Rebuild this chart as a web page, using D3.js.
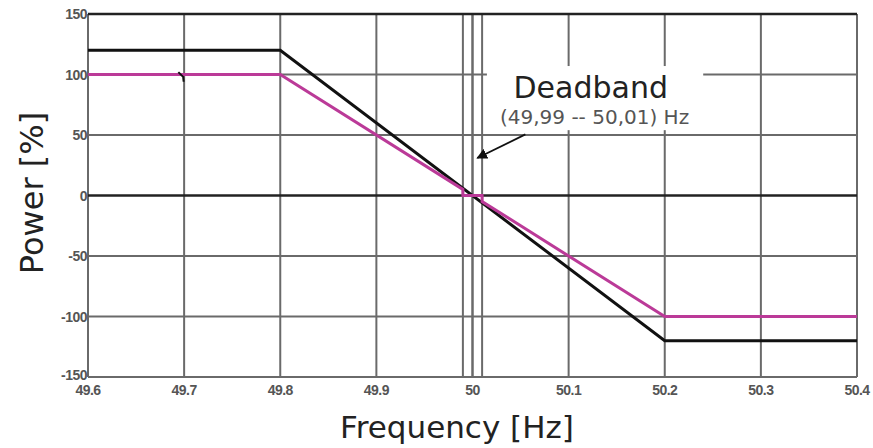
<!DOCTYPE html>
<html>
<head>
<script src="https://cdn.jsdelivr.net/npm/d3@7"></script>
<style>
  body { margin: 0; background: #fff; }
  svg { display: block; }
</style>
</head>
<body>
<div id="chart"></div>
<script>
// tick values
var xTicks = [49.6, 49.7, 49.8, 49.9, 50, 50.1, 50.2, 50.3, 50.4];
var yTicks = [-150, -100, -50, 0, 50, 100, 150];
var deadbandLines = [49.99, 50, 50.01];

// curves (frequency, power %)
var blackFreq  = [49.6, 49.8, 50.2, 50.4];
var blackPower = [120, 120, -120, -120];
var pinkFreq   = [49.6, 49.8, 49.99, 49.99, 50.01, 50.01, 50.2, 50.4];
var pinkPower  = [100, 100, 5, 0, 0, -5, -100, -100];

// little stray stroke near 49.7
var strayFreq  = [49.694, 49.699, 49.6995];
var strayPower = [102, 98, 94];

var W = 873, H = 448;
var margin = {top: 14, right: 16, bottom: 71, left: 88};
var width = W - margin.left - margin.right,
    height = H - margin.top - margin.bottom;

var svg = d3.select("#chart").append("svg")
    .attr("width", W).attr("height", H);

var g = svg.append("g")
    .attr("transform", "translate(" + margin.left + "," + margin.top + ")");

var x = d3.scaleLinear().domain([49.6, 50.4]).range([0, width]);
var y = d3.scaleLinear().domain([-150, 150]).range([height, 0]);

// grid
g.selectAll(".vgrid").data(xTicks.concat(deadbandLines)).enter().append("line")
    .attr("x1", d => x(d)).attr("x2", d => x(d))
    .attr("y1", 0).attr("y2", height)
    .attr("stroke", "#6a6a6a").attr("stroke-width", 2);

g.selectAll(".hgrid").data(yTicks).enter().append("line")
    .attr("x1", 0).attr("x2", width)
    .attr("y1", d => y(d)).attr("y2", d => y(d))
    .attr("stroke", d => (d === 0 || d === 150) ? "#222" : "#6a6a6a")
    .attr("stroke-width", d => (d === 0 || d === 150) ? 2.5 : 2);

// tick labels
g.selectAll(".ylab").data(yTicks).enter().append("text")
    .attr("x", -1).attr("y", d => y(d) + (d === -150 ? 3 : 5))
    .attr("text-anchor", "end")
    .style("font", "bold 14px 'Liberation Sans', Arial, sans-serif")
    .style("letter-spacing", "-0.5px")
    .attr("fill", "#555")
    .text(d => d);

g.selectAll(".xlab").data(xTicks).enter().append("text")
    .attr("x", d => x(d)).attr("y", height + 18)
    .attr("text-anchor", "middle")
    .style("font", "bold 14px 'Liberation Sans', Arial, sans-serif")
    .style("letter-spacing", "-0.5px")
    .attr("fill", "#555")
    .text(d => d);

var line = d3.line().x(d => x(d[0])).y(d => y(d[1]));

g.append("path")
    .datum(blackFreq.map((f, i) => [f, blackPower[i]]))
    .attr("d", line).attr("fill", "none")
    .attr("stroke", "#111").attr("stroke-width", 3);

g.append("path")
    .datum(pinkFreq.map((f, i) => [f, pinkPower[i]]))
    .attr("d", line).attr("fill", "none")
    .attr("stroke", "#bb3a98").attr("stroke-width", 3);

g.append("path")
    .datum(strayFreq.map((f, i) => [f, strayPower[i]]))
    .attr("d", line).attr("fill", "none")
    .attr("stroke", "#111").attr("stroke-width", 2);

// annotation, with white box behind it
g.append("rect")
    .attr("x", x(50.015)).attr("y", y(107))
    .attr("width", x(50.24) - x(50.015)).attr("height", y(54) - y(107))
    .attr("fill", "#fff");

g.append("text")
    .attr("x", x(50.123)).attr("y", y(80.5))
    .attr("text-anchor", "middle")
    .style("font", "30px 'DejaVu Sans', sans-serif")
    .attr("fill", "#222")
    .text("Deadband");

g.append("text")
    .attr("x", x(50.127)).attr("y", y(59.5))
    .attr("text-anchor", "middle")
    .style("font", "20px 'DejaVu Sans', sans-serif")
    .attr("fill", "#555")
    .text("(49,99 -- 50,01) Hz");

svg.append("defs").append("marker")
    .attr("id", "arr").attr("viewBox", "0 0 10 10")
    .attr("refX", 9).attr("refY", 5)
    .attr("markerWidth", 6).attr("markerHeight", 6)
    .attr("orient", "auto")
    .append("path").attr("d", "M0,0 L10,5 L0,10 Z").attr("fill", "#111");

g.append("line")
    .attr("x1", x(50.055)).attr("y1", y(50.5))
    .attr("x2", x(50.005)).attr("y2", y(31))
    .attr("stroke", "#111").attr("stroke-width", 1.8)
    .attr("marker-end", "url(#arr)");

// axis titles
svg.append("text")
    .attr("transform", "translate(43,193) rotate(-90)")
    .attr("text-anchor", "middle")
    .style("font", "32px 'DejaVu Sans', sans-serif")
    .attr("fill", "#222")
    .text("Power [%]");

svg.append("text")
    .attr("x", 457).attr("y", 438)
    .attr("text-anchor", "middle")
    .style("font", "31px 'DejaVu Sans', sans-serif")
    .attr("fill", "#222")
    .text("Frequency [Hz]");
</script>
</body>
</html>
